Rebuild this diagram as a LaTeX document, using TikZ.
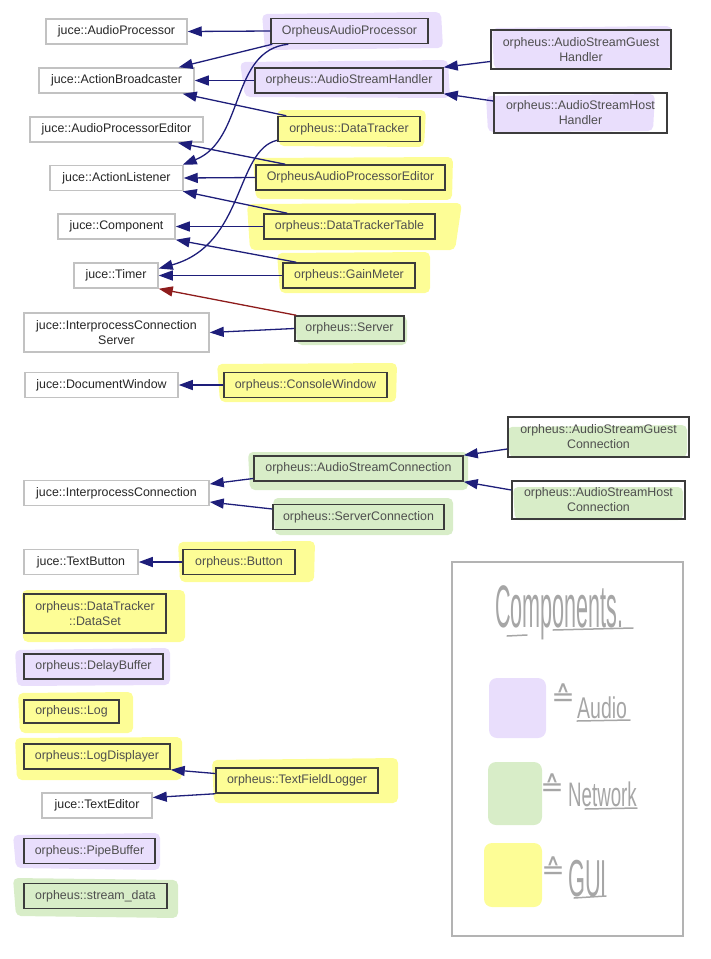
\documentclass[tikz,border=0pt]{standalone}
\usepackage{fontspec}
\setmainfont{Liberation Sans}
\newfontfamily\symfont{DejaVu Sans}
\usepackage{graphicx}
\usetikzlibrary{arrows.meta}

\definecolor{inhblue}{HTML}{1E1E7A}
\definecolor{inhred}{HTML}{8E1C1C}
\definecolor{jborder}{HTML}{C2C2C2}
\definecolor{oborder}{HTML}{3C3C3C}
\definecolor{jtext}{HTML}{262626}
\definecolor{otext}{HTML}{4E4E4E}
\definecolor{hlpurple}{HTML}{E9DEFC}
\definecolor{hlgreen}{HTML}{D8EDC8}
\definecolor{hlyellow}{HTML}{FDFD96}
\definecolor{handgray}{HTML}{A6A6A6}

\tikzset{
	jbox/.style={draw=jborder,line width=1.5pt,fill=white,text=jtext,inner sep=0pt,minimum height=25pt,align=center,font=\fontsize{12.4}{15}\selectfont},
	obox/.style={draw=oborder,line width=1.5pt,text=otext,inner sep=0pt,minimum height=25pt,align=center,font=\fontsize{12.4}{15}\selectfont},
	inh/.style={draw=inhblue,line width=1.3pt,-{Triangle[length=14pt,width=10pt]}},
	inhpriv/.style={draw=inhred,line width=1.3pt,-{Triangle[length=14pt,width=10pt]}},
	hlp/.style={fill=hlpurple,rounded corners=5pt},
	hlg/.style={fill=hlgreen,rounded corners=5pt},
	hly/.style={fill=hlyellow,rounded corners=5pt},
	hand/.style={text=handgray,inner sep=0pt},
	handline/.style={draw=handgray,line width=1.5pt,line cap=round}
}

\begin{document}
\begin{tikzpicture}[x=1pt,y=-1pt]
	\useasboundingbox (0,0) rectangle (711,959);

	\fill[hlp] (262,14) -- (441,12) -- (443,48) -- (265,50) -- cycle;
	\fill[hlp] (240,62) -- (448,60) -- (450,98) -- (245,97) -- cycle;
	\fill[hlp] (492,28) -- (672,26) -- (672,68) -- (494,69) -- cycle;
	\fill[hlp] (486,96) -- (655,94) -- (653,131) -- (488,132) -- cycle;
	\fill[hlp] (15,650) -- (170,648) -- (170,685) -- (17,686) -- cycle;
	\fill[hlp] (13,835) -- (160,833) -- (160,870) -- (16,868) -- cycle;
	\fill[hly] (277,110) -- (426,110) -- (424,147) -- (279,146) -- cycle;
	\fill[hly] (253,158) -- (453,157) -- (452,200) -- (256,199) -- cycle;
	\fill[hly] (247,204) -- (462,203) -- (455,250) -- (250,250) -- cycle;
	\fill[hly] (277,253) -- (430,252) -- (430,293) -- (280,293) -- cycle;
	\fill[hly] (217,364) -- (397,363) -- (396,402) -- (220,402) -- cycle;
	\fill[hly] (178,542) -- (315,541) -- (314,582) -- (180,582) -- cycle;
	\fill[hly] (22,590) -- (185,590) -- (185,642) -- (23,642) -- cycle;
	\fill[hly] (18,693) -- (133,692) -- (133,733) -- (20,733) -- cycle;
	\fill[hly] (15,738) -- (182,737) -- (182,780) -- (17,780) -- cycle;
	\fill[hly] (212,760) -- (398,758) -- (398,803) -- (214,803) -- cycle;
	\fill[hlg] (295,315) -- (407,316) -- (407,345) -- (297,345) -- cycle;
	\fill[hlg] (248,452) -- (468,452) -- (468,490) -- (250,490) -- cycle;
	\fill[hlg] (273,498) -- (453,498) -- (453,535) -- (275,535) -- cycle;
	\fill[hlg] (507,427) -- (687,425) -- (687,457) -- (510,458) -- cycle;
	\fill[hlg] (513,487) -- (683,487) -- (683,520) -- (515,520) -- cycle;
	\fill[hlg] (13,878) -- (178,880) -- (178,918) -- (16,916) -- cycle;

	\node[jbox,minimum width=141] (ap) at (116.5,31.5) {juce::AudioProcessor};
	\node[jbox,minimum width=155] (ab) at (116.5,80.5) {juce::ActionBroadcaster};
	\node[jbox,minimum width=173] (ape) at (116.5,129.5) {juce::AudioProcessorEditor};
	\node[jbox,minimum width=133] (al) at (116.5,178) {juce::ActionListener};
	\node[jbox,minimum width=117] (comp) at (116.5,226.5) {juce::Component};
	\node[jbox,minimum width=84] (timer) at (116,275.5) {juce::Timer};
	\node[jbox,minimum width=185,minimum height=39] (ics) at (116.5,332.5) {juce::InterprocessConnection\\Server};
	\node[jbox,minimum width=153] (dw) at (101.5,385) {juce::DocumentWindow};
	\node[jbox,minimum width=185] (ic) at (116.5,493) {juce::InterprocessConnection};
	\node[jbox,minimum width=114] (tb) at (81,562) {juce::TextButton};
	\node[jbox,minimum width=110] (te) at (97,805.5) {juce::TextEditor};

	\node[obox,minimum width=157] (oap) at (349.5,31) {OrpheusAudioProcessor};
	\node[obox,minimum width=188] (ash) at (349,80.5) {orpheus::AudioStreamHandler};
	\node[obox,minimum width=180,minimum height=39] (gh) at (581,49.5) {orpheus::AudioStreamGuest\\Handler};
	\node[obox,minimum width=173,minimum height=40] (hh) at (580.5,113) {orpheus::AudioStreamHost\\Handler};
	\node[obox,minimum width=142] (dt) at (349,129) {orpheus::DataTracker};
	\node[obox,minimum width=189] (oape) at (350.5,177.5) {OrpheusAudioProcessorEditor};
	\node[obox,minimum width=171] (dtt) at (349.5,226.5) {orpheus::DataTrackerTable};
	\node[obox,minimum width=132] (gm) at (349,275.5) {orpheus::GainMeter};
	\node[obox,minimum width=109] (srv) at (349.5,328.5) {orpheus::Server};
	\node[obox,minimum width=163] (cw) at (305.5,385) {orpheus::ConsoleWindow};
	\node[obox,minimum width=209] (asc) at (358.5,468.5) {orpheus::AudioStreamConnection};
	\node[obox,minimum width=171] (sc) at (358.5,517) {orpheus::ServerConnection};
	\node[obox,minimum width=181,minimum height=40] (gc) at (598.5,437) {orpheus::AudioStreamGuest\\Connection};
	\node[obox,minimum width=173,minimum height=38] (hc) at (598.5,500) {orpheus::AudioStreamHost\\Connection};
	\node[obox,minimum width=112] (btn) at (239,562) {orpheus::Button};
	\node[obox,minimum width=142,minimum height=39] (ds) at (95,613.5) {orpheus::DataTracker\\::DataSet};
	\node[obox,minimum width=139] (db) at (93.5,666.5) {orpheus::DelayBuffer};
	\node[obox,minimum width=95,minimum height=23] (log) at (71.5,711.5) {orpheus::Log};
	\node[obox,minimum width=146] (ld) at (97,756.5) {orpheus::LogDisplayer};
	\node[obox,minimum width=162] (tfl) at (297,780.5) {orpheus::TextFieldLogger};
	\node[obox,minimum width=131] (pb) at (89.5,851) {orpheus::PipeBuffer};
	\node[obox,minimum width=143] (sd) at (95.5,896) {orpheus::stream\_data};

	\draw[inh] (oap.west) -- (ap.east);
	\draw[inh] ([xshift=2pt]oap.south west) -- ([xshift=-16pt]ab.north east);
	\draw[inh] ([xshift=18pt]oap.south west) .. controls (230,50) and (245,140) .. ([xshift=-1pt]al.north east);
	\draw[inh] (ash.west) -- (ab.east);
	\draw[inh] ([yshift=-12pt]gh.west) -- (ash.north east);
	\draw[inh] ([yshift=12pt]hh.west) -- (ash.south east);
	\draw[inh] ([xshift=9pt]dt.north west) -- ([xshift=-12pt]ab.south east);
	\draw[inh] ([yshift=2pt]dt.south west) .. controls (235,150) and (245,245) .. ([yshift=7pt]timer.east);
	\draw[inh] ([xshift=30pt]oape.north west) -- ([xshift=-26pt]ape.south east);
	\draw[inh] (oape.west) -- (al.east);
	\draw[inh] ([xshift=24pt]dtt.north west) -- ([xshift=-1pt]al.south east);
	\draw[inh] (dtt.west) -- (comp.east);
	\draw[inh] ([xshift=14pt]gm.north west) -- (comp.south east);
	\draw[inh] (gm.west) -- (timer.east);
	\draw[inhpriv] ([xshift=2pt]srv.north west) -- (timer.south east);
	\draw[inh] (srv.west) -- (ics.east);
	\draw[inh] (cw.west) -- (dw.east);
	\draw[inh] ([yshift=-10pt]asc.west) -- ([yshift=9pt]ic.east);
	\draw[inh] ([yshift=8pt]sc.west) -- ([yshift=-9pt]ic.east);
	\draw[inh] ([yshift=-12pt]gc.west) -- (asc.north east);
	\draw[inh] ([yshift=10pt]hc.west) -- (asc.south east);
	\draw[inh] (btn.west) -- (tb.east);
	\draw[inh] ([yshift=7pt]tfl.west) -- (ld.south east);
	\draw[inh] (tfl.south west) -- ([yshift=8pt]te.east);

	\draw[draw=handgray!85,line width=2.5pt] (452,562) rectangle (683,936);
	\node[hand,anchor=base west] (lgtitle) at (495,627) {\fontsize{60}{60}\selectfont\scalebox{0.36}[1]{Components.}};
	\draw[handline] (507,636) -- (527,635);
	\draw[handline] (553,630) -- (633,628);
	\fill[hlpurple,rounded corners=8pt] (489,678) rectangle (546,738);
	\fill[hlgreen,rounded corners=8pt] (488,762) rectangle (542,825);
	\fill[hlyellow,rounded corners=8pt] (484,843) rectangle (542,907);
	\node[hand] (eqa) at (563,695) {\fontsize{28}{28}\selectfont\symfont ≙};
	\node[hand] (eqn) at (552,785) {\fontsize{28}{28}\selectfont\symfont ≙};
	\node[hand] (eqg) at (553,868) {\fontsize{28}{28}\selectfont\symfont ≙};
	\node[hand,anchor=base west] (lgaudio) at (577,718) {\fontsize{30}{30}\selectfont\scalebox{0.65}[1]{Audio}};
	\node[hand,anchor=base west] (lgnet) at (568,806) {\fontsize{34}{34}\selectfont\scalebox{0.55}[1]{Network}};
	\node[hand,anchor=base west] (lggui) at (568,896) {\fontsize{52}{52}\selectfont\scalebox{0.42}[1]{GUI}};
	\draw[handline] (577,721) -- (630,720);
	\draw[handline] (585,809) -- (637,808);
	\draw[handline] (574,898) -- (606,896);
\end{tikzpicture}
\end{document}
